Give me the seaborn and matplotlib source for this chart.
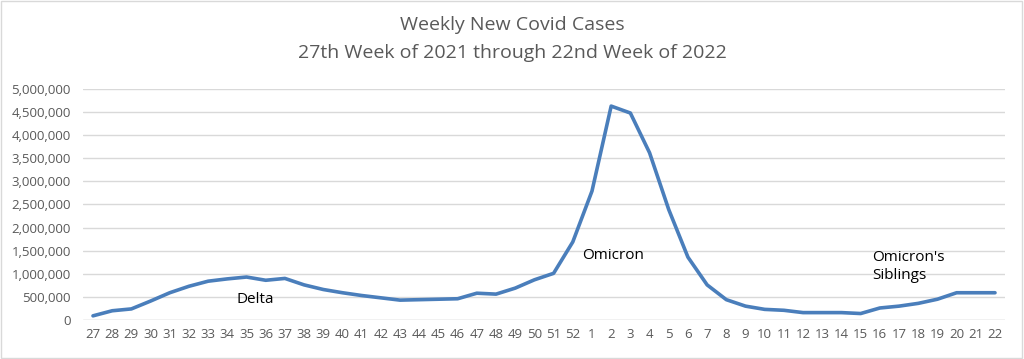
import numpy as np
import pandas as pd
import matplotlib
matplotlib.use('Agg')
import matplotlib.pyplot as plt
import seaborn as sns
from matplotlib.ticker import FuncFormatter

# week labels: 27th week of 2021 through 22nd week of 2022
weeks = [str(w) for w in range(27, 53)] + [str(w) for w in range(1, 23)]
cases = [
    90000, 200000, 240000, 410000, 590000, 730000, 840000, 890000, 930000, 860000,
    900000, 760000, 660000, 590000, 530000, 480000, 430000, 440000, 450000, 460000,
    580000, 560000, 690000, 870000, 1010000, 1690000, 2790000, 4630000, 4480000, 3620000,
    2390000, 1360000, 760000, 440000, 300000, 230000, 210000, 160000, 160000, 160000,
    140000, 260000, 300000, 360000, 450000, 590000, 590000, 590000,
]
labels = [("Delta", 7.5, 450000), ("Omicron", 25.5, 1400000), ("Omicron's\nSiblings", 40.6, 1150000)]

df = pd.DataFrame({'idx': np.arange(len(weeks)), 'week': weeks, 'cases': cases})

sns.set_style('white')
plt.rcParams['font.family'] = ['Open Sans', 'DejaVu Sans']

fig = plt.figure(figsize=(10.24, 3.59), dpi=100)
ax = fig.add_axes([83.4 / 1024, 1 - 320 / 359, (1004.6 - 83.4) / 1024, 231 / 359])

sns.lineplot(data=df, x='idx', y='cases', color='#4A7EBB', linewidth=2.6, ax=ax)

ax.set_xlim(-0.5, len(weeks) - 0.5)
ax.set_ylim(0, 5000000)
ax.set_yticks(np.arange(0, 5000001, 500000))
ax.yaxis.set_major_formatter(FuncFormatter(lambda v, p: f'{int(v):,}'))
ax.set_xticks(df['idx'])
ax.set_xticklabels(weeks)
ax.tick_params(axis='both', colors='#595959', labelsize=9.5, length=0)
ax.tick_params(axis='x', pad=6)
ax.tick_params(axis='y', pad=9)
ax.grid(axis='y', color='#D9D9D9', linewidth=1)
ax.set_axisbelow(True)
for s in ax.spines.values():
    s.set_visible(False)
ax.axhline(0, color='#D9D9D9', linewidth=1, zorder=0)
ax.set_xlabel('')
ax.set_ylabel('')

for txt, x, y in labels:
    ax.text(x, y, txt, fontsize=11, color='black', ha='left', va='center', linespacing=1.25)

fig.text(0.5, 1 - 25 / 359, 'Weekly New Covid Cases', ha='center', va='center', fontsize=14, color='#595959')
fig.text(0.5, 1 - 53 / 359, '27th Week of 2021 through 22nd Week of 2022', ha='center', va='center',
         fontsize=14, color='#595959')

# light border around the chart
fig.patches.append(plt.Rectangle((0.001, 0.002), 0.997, 0.995, transform=fig.transFigure,
                                 fill=False, edgecolor='#D9D9D9', linewidth=1))

fig.savefig('out.png', dpi=100)
